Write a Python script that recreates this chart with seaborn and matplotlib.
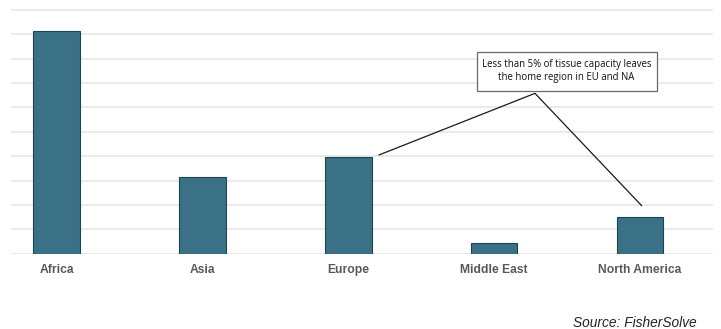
import matplotlib
matplotlib.use("Agg")
import matplotlib.pyplot as plt
import seaborn as sns
import pandas as pd
from matplotlib.patches import Rectangle

regions = ["Africa", "Asia", "Europe", "Middle East", "North America"]
capacity = [9.14, 3.15, 3.96, 0.45, 1.5]

sns.set_theme(style="white")
plt.rcParams["font.family"] = ["Liberation Sans", "DejaVu Sans"]

df = pd.DataFrame({"region": regions, "capacity": capacity})

fig = plt.figure(figsize=(7.21, 3.29), dpi=100)
ax = fig.add_axes([0.01526, 0.2289, 0.9736, 0.7559])

sns.barplot(data=df, x="region", y="capacity", color="#3a7186", saturation=1,
            width=0.32, edgecolor="#1d4453", linewidth=0.8, ax=ax, zorder=3)

ax.set_xlim(-0.312, 4.5)
ax.set_ylim(0, 10.205)
ax.set_yticks(range(0, 11))
ax.yaxis.grid(True, color="#e6e6e6", linewidth=1.2, zorder=0)
ax.set_axisbelow(True)
ax.set_yticklabels([])
ax.tick_params(axis="y", length=0)
ax.tick_params(axis="x", length=0, pad=7.5)
for lbl in ax.get_xticklabels():
    lbl.set_fontweight("bold")
    lbl.set_fontsize(8.7)
    lbl.set_color("#595959")
ax.set_xlabel("")
ax.set_ylabel("")
for s in ax.spines.values():
    s.set_visible(False)

# callout connecting Europe and North America
ax.plot([2.210, 3.280, 4.011], [4.05, 6.58, 1.97], color="#1a1a1a",
        linewidth=0.9, zorder=4, clip_on=False)
ax.add_patch(Rectangle((3.497 - 0.617, 7.48 - 0.80), 1.234, 1.60,
                       facecolor="white", edgecolor="#6a6a6a", linewidth=0.9,
                       zorder=5, clip_on=False))
ax.text(3.497, 7.50, "Less than 5% of tissue capacity leaves\nthe home region in EU and NA",
        ha="center", va="center", fontsize=6.9, family=["Open Sans", "DejaVu Sans"],
        color="#111111", linespacing=1.2, zorder=6)

fig.text(697 / 721, 1 - 323 / 329, "Source: FisherSolve", ha="right", va="center",
         fontsize=9.9, style="italic", color="#222222")

fig.savefig("out.png", dpi=100)
